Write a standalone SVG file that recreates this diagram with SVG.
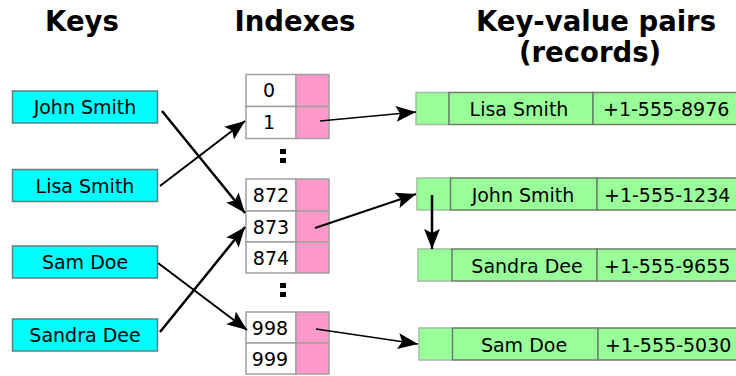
<svg xmlns="http://www.w3.org/2000/svg" width="736" height="376" viewBox="0 0 736 376">
<style>
text{font-family:"DejaVu Sans","Liberation Sans",sans-serif;fill:#000}
.title{font-size:27.5px;font-weight:bold;text-anchor:middle}
.lbl{font-size:19px;text-anchor:middle}
.ph{font-size:19px}
.key{fill:#00ffff;stroke:#5f7f7f;stroke-width:1.5}
.idx{fill:#ffffff;stroke:#a0a0a0;stroke-width:1.5}
.ptr{fill:#ff99cc;stroke:#a0a0a0;stroke-width:1.5}
.rec{fill:#99ff99;stroke:#6a806a;stroke-width:1.5}
.recl{fill:#99ff99;stroke:#a0c0a0;stroke-width:1.5}
.cn{stroke:#000;fill:none;marker-end:url(#ah)}
.dots{fill:#000}
</style>
<defs>
<marker id="ah" markerUnits="userSpaceOnUse" markerWidth="26" markerHeight="22" viewBox="-22 -11 24 22" refX="0" refY="0" orient="auto">
<path d="M0,0 L-20,-8 L-16,0 L-20,8 Z" fill="#000"/>
</marker>
</defs>
<rect width="736" height="376" fill="#fff"/>
<g id="titles">
<text class="title" x="82" y="31">Keys</text>
<text class="title" x="295" y="31">Indexes</text>
<text class="title" x="596" y="31">Key-value pairs</text>
<text class="title" x="590" y="62">(records)</text>
</g>
<g id="key-john"><rect class="key" x="12.5" y="91" width="145" height="32"/><text class="lbl" x="85" y="114">John Smith</text></g>
<g id="key-lisa"><rect class="key" x="12.5" y="169.5" width="145" height="32"/><text class="lbl" x="85" y="192.5">Lisa Smith</text></g>
<g id="key-sam"><rect class="key" x="12.5" y="246" width="145" height="32"/><text class="lbl" x="85" y="269">Sam Doe</text></g>
<g id="key-sandra"><rect class="key" x="12.5" y="319" width="145" height="32"/><text class="lbl" x="85" y="342">Sandra Dee</text></g>
<g id="index-0"><rect class="idx" x="246" y="74.5" width="50" height="32"/><rect class="ptr" x="296" y="74.5" width="33" height="32"/><text class="lbl" x="269" y="97">0</text></g>
<g id="index-1"><rect class="idx" x="246" y="106.5" width="50" height="32"/><rect class="ptr" x="296" y="106.5" width="33" height="32"/><text class="lbl" x="269" y="129">1</text></g>
<g id="dots-1"><rect class="dots" x="280" y="149" width="6" height="5"/><rect class="dots" x="280" y="158" width="6" height="5"/></g>
<g id="index-872"><rect class="idx" x="246" y="179" width="50" height="32"/><rect class="ptr" x="296" y="179" width="33" height="32"/><text class="lbl" x="271" y="202">872</text></g>
<g id="index-873"><rect class="idx" x="246" y="211" width="50" height="31"/><rect class="ptr" x="296" y="211" width="33" height="31"/><text class="lbl" x="271" y="234">873</text></g>
<g id="index-874"><rect class="idx" x="246" y="242" width="50" height="31"/><rect class="ptr" x="296" y="242" width="33" height="31"/><text class="lbl" x="271" y="265">874</text></g>
<g id="dots-2"><rect class="dots" x="280" y="283" width="6" height="5"/><rect class="dots" x="280" y="292" width="6" height="5"/></g>
<g id="index-998"><rect class="idx" x="246" y="312" width="50" height="31"/><rect class="ptr" x="296" y="312" width="33" height="31"/><text class="lbl" x="270" y="335">998</text></g>
<g id="index-999"><rect class="idx" x="246" y="343" width="50" height="31"/><rect class="ptr" x="296" y="343" width="33" height="31"/><text class="lbl" x="270" y="366">999</text></g>
<g id="rec-lisa"><rect class="recl" x="416" y="92.5" width="33" height="32"/><rect class="rec" x="449" y="92.5" width="144" height="32"/><rect class="rec" x="593" y="92.5" width="150" height="32"/><text class="lbl" x="519" y="116">Lisa Smith</text><text class="ph" x="603" y="116">+1-555-8976</text></g>
<g id="rec-john"><rect class="recl" x="417" y="178" width="33.5" height="32"/><rect class="rec" x="450.5" y="178" width="146.5" height="32"/><rect class="rec" x="597" y="178" width="150" height="32"/><text class="lbl" x="523" y="201.5">John Smith</text><text class="ph" x="604" y="201.5">+1-555-1234</text></g>
<g id="rec-sandra"><rect class="recl" x="418" y="249" width="34" height="32"/><rect class="rec" x="452" y="249" width="145" height="32"/><rect class="rec" x="597" y="249" width="150" height="32"/><text class="lbl" x="527" y="272.5">Sandra Dee</text><text class="ph" x="604" y="272.5">+1-555-9655</text></g>
<g id="rec-sam"><rect class="recl" x="419" y="328" width="33.5" height="32"/><rect class="rec" x="452.5" y="328" width="145.5" height="32"/><rect class="rec" x="598" y="328" width="150" height="32"/><text class="lbl" x="524" y="351.5">Sam Doe</text><text class="ph" x="605" y="351.5">+1-555-5030</text></g>
<g id="connectors">
<path class="cn" stroke-width="2.5" d="M162,111 L245,213"/>
<path class="cn" stroke-width="2" d="M160,186 L245,121"/>
<path class="cn" stroke-width="2" d="M158,263 L247,330"/>
<path class="cn" stroke-width="2.5" d="M160,332 L245,227"/>
<path class="cn" stroke-width="1.5" d="M320,121 L416,112"/>
<path class="cn" stroke-width="2" d="M315,228 L416,194"/>
<path class="cn" stroke-width="1.5" d="M316,329 L418,344"/>
<path class="cn" stroke-width="2.5" d="M432,195 L432,249"/>
</g>
</svg>
